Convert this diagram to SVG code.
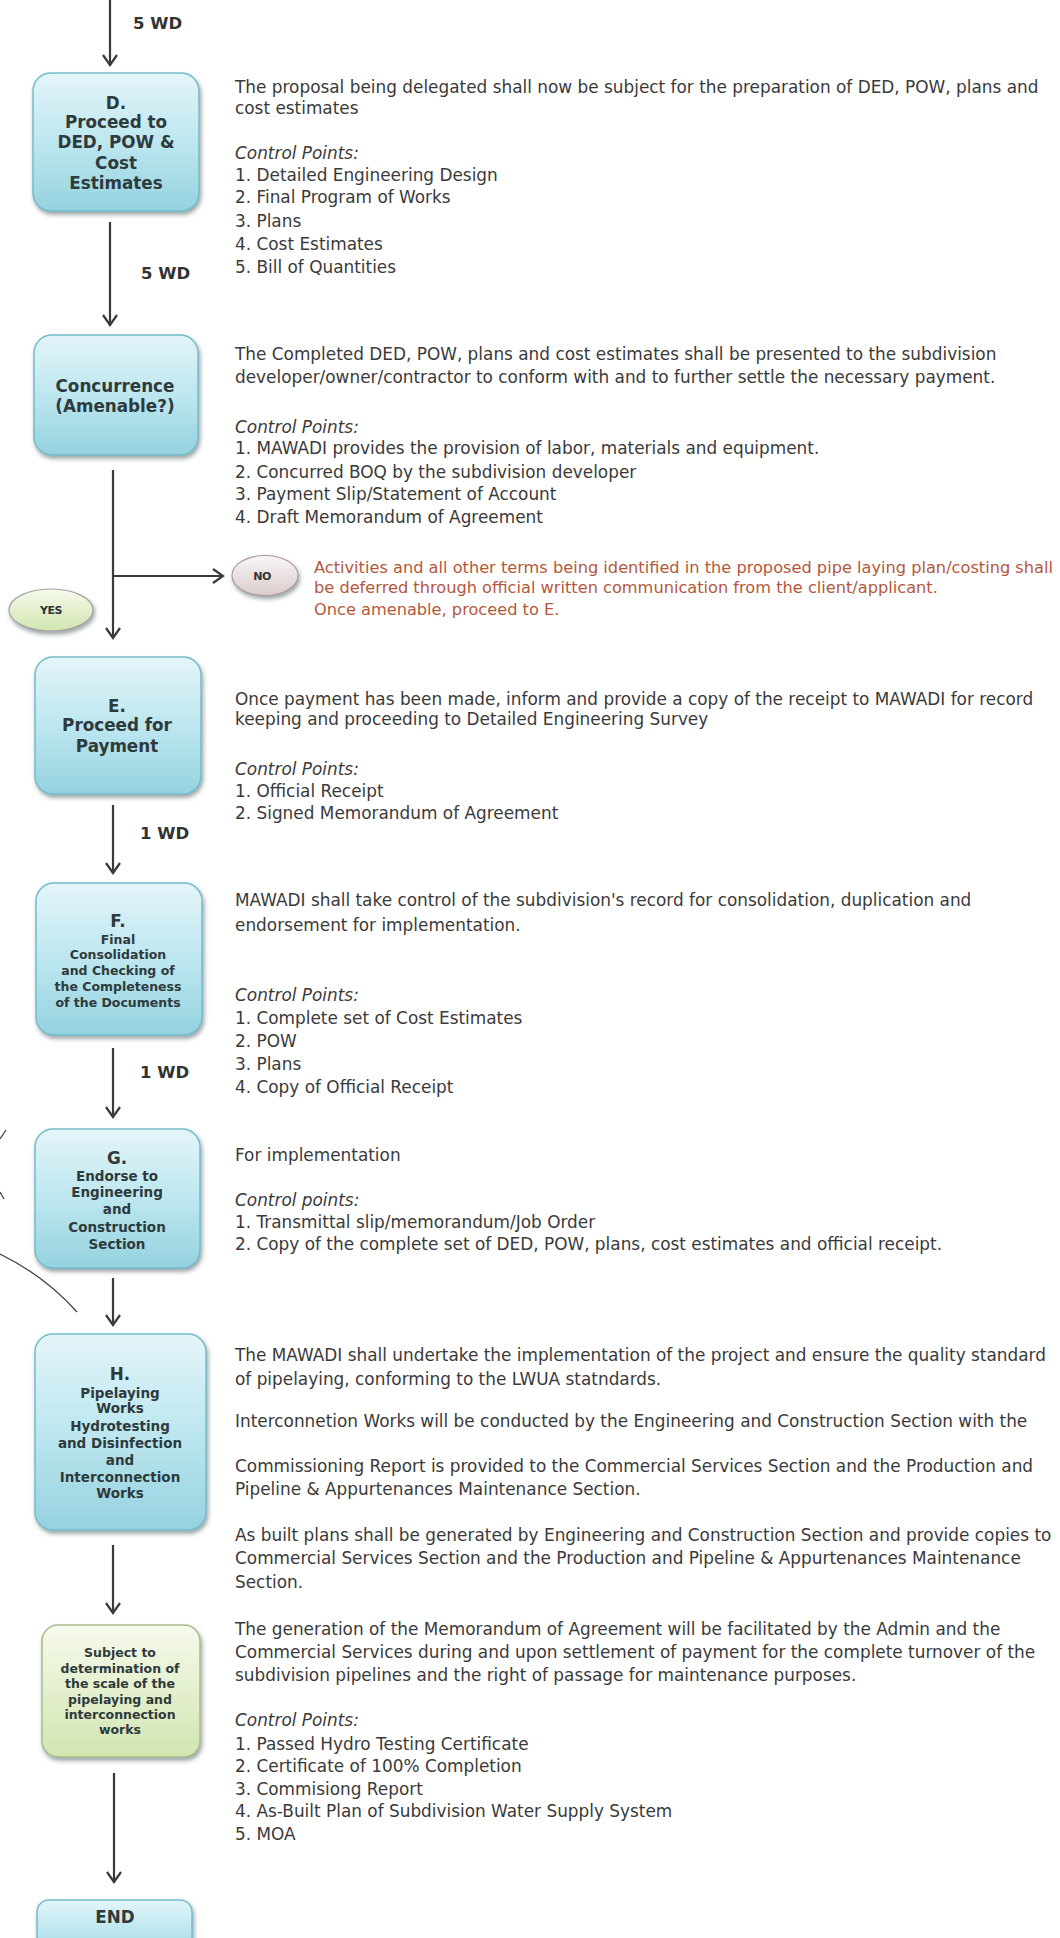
<svg xmlns="http://www.w3.org/2000/svg" width="1060" height="1938" viewBox="0 0 1060 1938">
<defs>
<style>
.body{font-family:"DejaVu Sans","Verdana",sans-serif;font-size:16.9px;fill:#3a3a3a}
.it{font-style:italic}
.no{font-family:"DejaVu Sans","Verdana",sans-serif;font-size:16.2px;fill:#b4583c}
.lbl{font-family:"DejaVu Sans","Verdana",sans-serif;font-weight:bold;fill:#2e3a3c;text-anchor:middle}
.big{font-size:16.8px}
.mid{font-size:13.5px}
.sm{font-size:12.5px}
.wd{font-family:"DejaVu Sans","Verdana",sans-serif;font-weight:bold;font-size:16.5px;fill:#333}
.yn{font-family:"DejaVu Sans","Verdana",sans-serif;font-weight:bold;font-size:11px;fill:#333;text-anchor:middle;letter-spacing:-0.5px}
.box{fill:url(#cyan);stroke:#74bccb;stroke-width:1.5;filter:url(#sh)}
.gbox{fill:url(#green);stroke:#a9ba8e;stroke-width:1.5;filter:url(#sh)}
.conn{fill:none;stroke:#3a3a3a;stroke-width:2.2}
.scr{fill:none;stroke:#444;stroke-width:1.3}
</style>
<linearGradient id="cyan" x1="0" y1="0" x2="0" y2="1">
<stop offset="0" stop-color="#e4f5f9"/>
<stop offset="0.55" stop-color="#b9e5ee"/>
<stop offset="1" stop-color="#94d2df"/>
</linearGradient>
<linearGradient id="green" x1="0" y1="0" x2="0" y2="1">
<stop offset="0" stop-color="#f6faec"/>
<stop offset="1" stop-color="#d2e5b0"/>
</linearGradient>
<linearGradient id="pink" x1="0" y1="0" x2="0" y2="1">
<stop offset="0" stop-color="#fbf6f6"/>
<stop offset="1" stop-color="#d9cccc"/>
</linearGradient>
<filter id="sh" x="-10%" y="-10%" width="125%" height="130%">
<feDropShadow dx="1.5" dy="3" stdDeviation="2" flood-color="#4a5a5c" flood-opacity="0.55"/>
</filter>
<marker id="ah" viewBox="0 0 16 16" refX="14" refY="8" markerWidth="16" markerHeight="16" markerUnits="userSpaceOnUse" orient="auto">
<path d="M4,1 L14,8 L4,15" fill="none" stroke="#3a3a3a" stroke-width="2.2"/>
</marker>
</defs>
<rect width="1060" height="1938" fill="#ffffff"/>

<g id="connectors">
<path class="conn" d="M110,0 V65" marker-end="url(#ah)"/>
<path class="conn" d="M110,222 V325" marker-end="url(#ah)"/>
<path class="conn" d="M113,470 V638" marker-end="url(#ah)"/>
<path class="conn" d="M113,576 H223" marker-end="url(#ah)"/>
<path class="conn" d="M113,805 V873" marker-end="url(#ah)"/>
<path class="conn" d="M113,1048 V1117" marker-end="url(#ah)"/>
<path class="conn" d="M113,1278 V1325" marker-end="url(#ah)"/>
<path class="conn" d="M113,1545 V1613" marker-end="url(#ah)"/>
<path class="conn" d="M114,1773 V1882" marker-end="url(#ah)"/>
<text class="wd" x="133" y="29">5 WD</text>
<text class="wd" x="141" y="279">5 WD</text>
<text class="wd" x="140" y="839">1 WD</text>
<text class="wd" x="140" y="1078">1 WD</text>
<path class="scr" d="M0,1139 L6,1130"/>
<path class="scr" d="M0,1192 L4,1199"/>
<path class="scr" d="M0,1254 Q45,1276 77,1312"/>
</g>

<g id="nodeD">
<rect class="box" x="33" y="73" width="166" height="138" rx="18"/>
<text class="lbl big" x="116" y="109">D.</text>
<text class="lbl big" x="116" y="128">Proceed to</text>
<text class="lbl big" x="116" y="148">DED, POW &amp;</text>
<text class="lbl big" x="116" y="169">Cost</text>
<text class="lbl big" x="116" y="189">Estimates</text>
</g>
<g id="textD" class="body">
<text x="235" y="92.5">The proposal being delegated shall now be subject for the preparation of DED, POW, plans and</text>
<text x="235" y="114">cost estimates</text>
<text x="235" y="159" class="it">Control Points:</text>
<text x="235" y="180.5">1. Detailed Engineering Design</text>
<text x="235" y="203">2. Final Program of Works</text>
<text x="235" y="227">3. Plans</text>
<text x="235" y="249.5">4. Cost Estimates</text>
<text x="235" y="272.5">5. Bill of Quantities</text>
</g>

<g id="nodeConcurrence">
<rect class="box" x="34" y="335" width="164" height="120" rx="18"/>
<text class="lbl big" x="115" y="392">Concurrence</text>
<text class="lbl big" x="115" y="412">(Amenable?)</text>
</g>
<g id="textConcurrence" class="body">
<text x="235" y="359.5">The Completed DED, POW, plans and cost estimates shall be presented to the subdivision</text>
<text x="235" y="382.5">developer/owner/contractor to conform with and to further settle the necessary payment.</text>
<text x="235" y="432.5" class="it">Control Points:</text>
<text x="235" y="454">1. MAWADI provides the provision of labor, materials and equipment.</text>
<text x="235" y="477.5">2. Concurred BOQ by the subdivision developer</text>
<text x="235" y="500">3. Payment Slip/Statement of Account</text>
<text x="235" y="523">4. Draft Memorandum of Agreement</text>
</g>

<g id="nodeNo">
<ellipse cx="265" cy="575.5" rx="33" ry="20" fill="url(#pink)" stroke="#a89c9c" stroke-width="1.2" filter="url(#sh)"/>
<text class="yn" x="262" y="580">NO</text>
</g>
<g id="textNo" class="no">
<text x="314" y="572.5">Activities and all other terms being identified in the proposed pipe laying plan/costing shall</text>
<text x="314" y="592.5">be deferred through official written communication from the client/applicant.</text>
<text x="314" y="615">Once amenable, proceed to E.</text>
</g>

<g id="nodeYes">
<ellipse cx="51" cy="610" rx="42" ry="21" fill="url(#green)" stroke="#a3a3a3" stroke-width="1.2" filter="url(#sh)"/>
<text class="yn" x="51" y="614">YES</text>
</g>

<g id="nodeE">
<rect class="box" x="35" y="657" width="166" height="137" rx="18"/>
<text class="lbl big" x="117" y="712">E.</text>
<text class="lbl big" x="117" y="731">Proceed for</text>
<text class="lbl big" x="117" y="752">Payment</text>
</g>
<g id="textE" class="body">
<text x="235" y="704.5">Once payment has been made, inform and provide a copy of the receipt to MAWADI for record</text>
<text x="235" y="725">keeping and proceeding to Detailed Engineering Survey</text>
<text x="235" y="774.5" class="it">Control Points:</text>
<text x="235" y="797">1. Official Receipt</text>
<text x="235" y="819">2. Signed Memorandum of Agreement</text>
</g>

<g id="nodeF">
<rect class="box" x="36" y="883" width="166" height="152" rx="18"/>
<text class="lbl big" x="118" y="927">F.</text>
<text class="lbl sm" x="118" y="943.5">Final</text>
<text class="lbl sm" x="118" y="958.5">Consolidation</text>
<text class="lbl sm" x="118" y="974.5">and Checking of</text>
<text class="lbl sm" x="118" y="990.5">the Completeness</text>
<text class="lbl sm" x="118" y="1006.5">of the Documents</text>
</g>
<g id="textF" class="body">
<text x="235" y="905.5">MAWADI shall take control of the subdivision's record for consolidation, duplication and</text>
<text x="235" y="931">endorsement for implementation.</text>
<text x="235" y="1001" class="it">Control Points:</text>
<text x="235" y="1023.5">1. Complete set of Cost Estimates</text>
<text x="235" y="1047">2. POW</text>
<text x="235" y="1069.5">3. Plans</text>
<text x="235" y="1092.5">4. Copy of Official Receipt</text>
</g>

<g id="nodeG">
<rect class="box" x="35" y="1129" width="165" height="139" rx="18"/>
<text class="lbl big" x="117" y="1164">G.</text>
<text class="lbl mid" x="117" y="1181">Endorse to</text>
<text class="lbl mid" x="117" y="1197">Engineering</text>
<text class="lbl mid" x="117" y="1214">and</text>
<text class="lbl mid" x="117" y="1232">Construction</text>
<text class="lbl mid" x="117" y="1249">Section</text>
</g>
<g id="textG" class="body">
<text x="235" y="1161">For implementation</text>
<text x="235" y="1205.5" class="it">Control points:</text>
<text x="235" y="1228">1. Transmittal slip/memorandum/Job Order</text>
<text x="235" y="1249.5">2. Copy of the complete set of DED, POW, plans, cost estimates and official receipt.</text>
</g>

<g id="nodeH">
<rect class="box" x="35" y="1334" width="171" height="196" rx="18"/>
<text class="lbl big" x="120" y="1380">H.</text>
<text class="lbl mid" x="120" y="1397.5">Pipelaying</text>
<text class="lbl mid" x="120" y="1413">Works</text>
<text class="lbl mid" x="120" y="1431">Hydrotesting</text>
<text class="lbl mid" x="120" y="1447.5">and Disinfection</text>
<text class="lbl mid" x="120" y="1465">and</text>
<text class="lbl mid" x="120" y="1481.5">Interconnection</text>
<text class="lbl mid" x="120" y="1498">Works</text>
</g>
<g id="textH" class="body">
<text x="235" y="1361">The MAWADI shall undertake the implementation of the project and ensure the quality standard</text>
<text x="235" y="1384.5">of pipelaying, conforming to the LWUA statndards.</text>
<text x="235" y="1427">Interconnetion Works will be conducted by the Engineering and Construction Section with the</text>
<text x="235" y="1472">Commissioning Report is provided to the Commercial Services Section and the Production and</text>
<text x="235" y="1494.5">Pipeline &amp; Appurtenances Maintenance Section.</text>
<text x="235" y="1541">As built plans shall be generated by Engineering and Construction Section and provide copies to</text>
<text x="235" y="1563.5">Commercial Services Section and the Production and Pipeline &amp; Appurtenances Maintenance</text>
<text x="235" y="1588">Section.</text>
</g>

<g id="nodeSubject">
<rect class="gbox" x="42" y="1625" width="158" height="132" rx="16"/>
<text class="lbl sm" x="120" y="1656.5">Subject to</text>
<text class="lbl sm" x="120" y="1672.5">determination of</text>
<text class="lbl sm" x="120" y="1687.5">the scale of the</text>
<text class="lbl sm" x="120" y="1703.5">pipelaying and</text>
<text class="lbl sm" x="120" y="1719">interconnection</text>
<text class="lbl sm" x="120" y="1734">works</text>
</g>
<g id="textSubject" class="body">
<text x="235" y="1634.5">The generation of the Memorandum of Agreement will be facilitated by the Admin and the</text>
<text x="235" y="1658">Commercial Services during and upon settlement of payment for the complete turnover of the</text>
<text x="235" y="1681">subdivision pipelines and the right of passage for maintenance purposes.</text>
<text x="235" y="1726" class="it">Control Points:</text>
<text x="235" y="1749.5">1. Passed Hydro Testing Certificate</text>
<text x="235" y="1772">2. Certificate of 100% Completion</text>
<text x="235" y="1794.5">3. Commisiong Report</text>
<text x="235" y="1817">4. As-Built Plan of Subdivision Water Supply System</text>
<text x="235" y="1839.5">5. MOA</text>
</g>

<g id="nodeEnd">
<rect class="box" x="37" y="1900" width="155" height="60" rx="12"/>
<text class="lbl big" x="115" y="1923">END</text>
</g>
</svg>
